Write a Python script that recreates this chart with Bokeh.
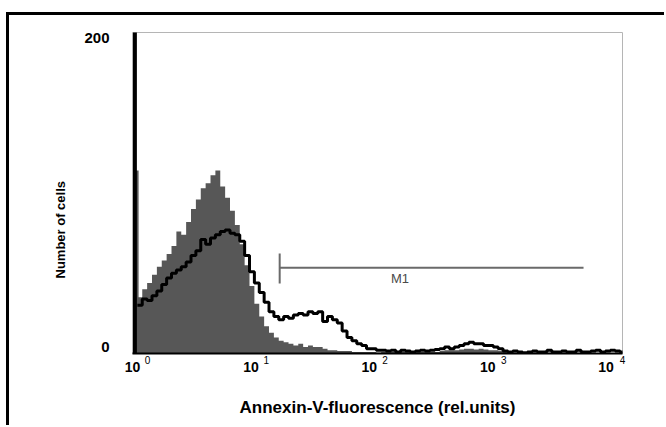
import numpy as np
from bokeh.plotting import figure
from bokeh.models import Range1d, FixedTicker, LogAxis, LinearAxis, Label, Title
from bokeh.embed import file_html
from bokeh.resources import INLINE

# ---------------- data ----------------
decades = [1, 10, 100, 1000, 10000]
decade_exponents = ["0", "1", "2", "3", "4"]
y_tick_values = [0, 200]
y_tick_labels = ["0", "200"]

# counts per channel, channels of 0.04 decade starting at 10^0.02
gray_counts = [
    35, 40, 44, 49, 54, 58, 62, 67, 76, 74,
    82, 90, 96, 103, 106, 111, 114, 104, 97, 89,
    80, 68, 55, 42, 31, 23, 17, 13, 10, 8,
    7, 6, 5, 6, 4, 5, 4, 4, 3, 2,
    2, 1.5, 1.5, 1.5, 1, 1, 1, 1, 1, 0.5,
    1, 1, 1, 0.5, 1, 1, 0.5, 1, 1, 1,
    1, 1, 1.5, 2, 2, 2, 2.5, 3, 3, 2.5,
    3, 2.5, 2, 2, 1.5, 1, 0.5, 0.5, 0.5, 0.5,
    0.5, 0.5, 0, 0.5, 0.5, 0, 0.5, 0.5, 0, 0.5,
    0.5, 0, 0.5, 0.5, 0, 0.5, 0.5, 0, 0.5, 0.5,
]
black_counts = [
    30, 34, 33, 36, 39, 43, 47, 50, 52, 54,
    57, 61, 64, 71, 68, 72, 74, 76, 77, 75,
    74, 70, 61, 51, 44, 38, 32, 26, 23, 21,
    23, 22, 24, 25, 24, 26, 25, 26, 20, 23,
    21, 19, 14, 10, 8, 6, 5, 3, 3, 2,
    2, 1.5, 2, 1, 2, 1.5, 1, 1.5, 2, 1.5,
    2, 2.5, 3, 4, 3, 4, 5, 6, 7, 6,
    6, 5, 5, 4, 3, 1.5, 1, 1.5, 1, 0.5,
    1, 1.5, 1, 1, 2, 1, 1, 1.5, 1, 1,
    2, 1, 1, 1.5, 2, 1, 1.5, 2, 1.5, 1,
]
gray_first_channel = 114   # pile-up in the lowest channel
black_first_channel = 210  # off scale
gate_m1 = [15.4, 4790]
gate_m1_level = 53.5
gate_m1_tick = [43.6, 62.3]
gate_name = "M1"

x_title = "Annexin-V-fluorescence (rel.units)"
y_title = "Number of cells"

# ---------------- geometry ----------------
LOG0, STEP = 0.02, 0.04
n = len(gray_counts)
edges = 10 ** (LOG0 + STEP * np.arange(n + 1))
gray_y = list(gray_counts) + [gray_counts[-1]]
black_y = list(black_counts) + [black_counts[-1]]

FONT = "Liberation Sans"
GRAY = "#575757"

p = figure(
    width=655, height=410,
    frame_width=490, frame_height=321,
    min_border_left=123, min_border_top=17, min_border_right=42, min_border_bottom=72,
    x_axis_type="log",
    x_range=Range1d(10 ** -0.02, 10 ** 4),
    y_range=Range1d(0, 200),
    output_backend="svg", toolbar_location=None,
)
p.styles = {"border-top": "3px solid black", "border-left": "3px solid black",
            "margin-top": "12px", "margin-left": "6px"}
p.background_fill_color = "white"
p.border_fill_color = "white"
p.outline_line_color = "#b5b5b5"
p.outline_line_width = 1
p.xgrid.visible = False
p.ygrid.visible = False
p.xaxis.visible = False
p.yaxis.visible = False

# label ranges (the scanned tick labels sit slightly off the decade positions)
p.extra_x_ranges = {
    "sup": Range1d(10 ** -0.1263, 10 ** 4.0005),
    "ten": Range1d(10 ** -0.001, 10 ** 4.139),
}
p.extra_y_ranges = {"ylab": Range1d(-3.88, 203.55)}

# gray histogram
p.quad(left=[10 ** -0.015], right=[10 ** 0.03], bottom=[0], top=[gray_first_channel],
       fill_color=GRAY, line_color=None)
p.varea_step(x=edges, y1=np.zeros(n + 1), y2=gray_y, step_mode="after",
             fill_color=GRAY)
# black histogram
p.quad(left=[10 ** -0.016], right=[10 ** 0.016], bottom=[0], top=[black_first_channel],
       fill_color="black", line_color=None)
p.step(x=edges, y=black_y, mode="after", line_color="black", line_width=3)

# M1 gate
p.segment(x0=[gate_m1[0]], y0=[gate_m1_level], x1=[gate_m1[1]], y1=[gate_m1_level],
          line_color="#6a6a6a", line_width=2)
p.segment(x0=[gate_m1[0]], y0=[gate_m1_tick[0]], x1=[gate_m1[0]], y1=[gate_m1_tick[1]],
          line_color="#6a6a6a", line_width=2)
p.add_layout(Label(x=10 ** 2.175, y=46.7, text=gate_name, text_align="center",
                   text_baseline="middle", text_font=FONT,
                   text_font_size="13px", text_color="#4a4a4a"))


def bare(axis):
    axis.major_tick_in = 0
    axis.major_tick_out = 0
    axis.minor_tick_in = 0
    axis.minor_tick_out = 0
    axis.major_tick_line_color = None
    axis.minor_tick_line_color = None
    axis.major_label_text_font = FONT
    axis.major_label_text_color = "black"


# x axis: line + exponent labels
sup_axis = LogAxis(x_range_name="sup", ticker=FixedTicker(ticks=decades),
                   major_label_overrides={d: e for d, e in zip(decades, decade_exponents)})
bare(sup_axis)
sup_axis.axis_line_color = "black"
sup_axis.axis_line_width = 2
sup_axis.major_label_standoff = 2
sup_axis.major_label_text_font_size = "10px"
p.add_layout(sup_axis, "below")

# x axis: "10" mantissa labels + title
ten_axis = LogAxis(x_range_name="ten", ticker=FixedTicker(ticks=decades),
                   major_label_overrides={d: "10" for d in decades})
bare(ten_axis)
ten_axis.axis_line_color = None
ten_axis.major_label_standoff = -5
ten_axis.major_label_text_font_size = "14px"
ten_axis.major_label_text_font_style = "bold"
ten_axis.axis_label = x_title
ten_axis.axis_label_standoff = 23
ten_axis.axis_label_text_font = FONT
ten_axis.axis_label_text_font_size = "17px"
ten_axis.axis_label_text_font_style = "bold"
ten_axis.axis_label_text_color = "black"
p.add_layout(ten_axis, "below")

# y axis
y_axis = LinearAxis(y_range_name="ylab", ticker=FixedTicker(ticks=y_tick_values),
                    major_label_overrides={v: t for v, t in zip(y_tick_values, y_tick_labels)})
bare(y_axis)
y_axis.axis_line_color = None
y_axis.major_label_standoff = 23
y_axis.major_label_text_font_size = "15px"
y_axis.major_label_text_font_style = "bold"
p.add_layout(y_axis, "left")

p.add_layout(Title(text=y_title, align="left", offset=75, standoff=28,
                   text_font=FONT, text_font_size="13px", text_font_style="bold",
                   text_color="black"), "left")

open("out.html", "w").write(file_html(p, INLINE))
